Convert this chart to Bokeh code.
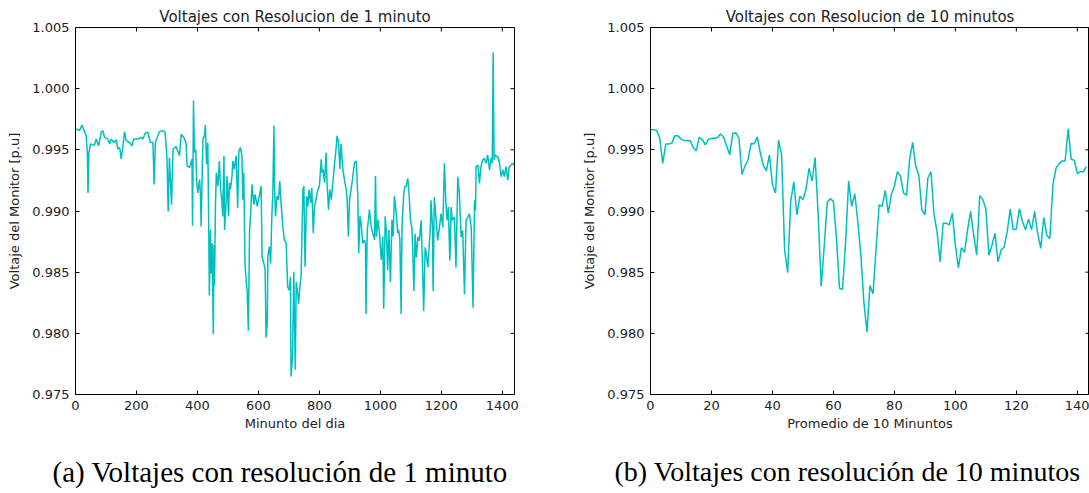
import math
from bokeh.plotting import figure
from bokeh.models import Range1d, FixedTicker, PrintfTickFormatter, Title
from bokeh.layouts import row
from bokeh.embed import file_html
from bokeh.resources import INLINE

# ---------------- data ----------------
minute_1 = [2, 13, 21, 28, 35, 39, 41, 44, 49, 62, 68, 76, 84, 90, 95, 106, 112, 117, 126, 134,
            139, 145, 150, 155, 161, 166, 177, 185, 191, 204, 215, 221, 229, 237, 246, 254, 258, 262, 275, 286,
            294, 300, 304, 308, 315, 320, 330, 341, 347, 358, 363, 366, 374, 382, 384, 387, 390, 394, 398, 401,
            407, 410, 412, 418, 423, 426, 430, 434, 437, 439, 443, 445, 448, 452, 454, 456, 459, 462, 467, 472,
            476, 480, 483, 487, 489, 494, 497, 502, 505, 508, 513, 516, 521, 527, 532, 536, 541, 546, 549, 552,
            556, 560, 563, 567, 571, 574, 579, 585, 589, 596, 603, 609, 612, 618, 622, 625, 629, 631, 636, 640,
            644, 647, 651, 653, 656, 661, 666, 670, 675, 680, 685, 691, 696, 701, 705, 707, 712, 716, 721, 724,
            729, 732, 736, 740, 746, 749, 753, 758, 762, 766, 771, 775, 780, 784, 789, 795, 800, 806, 809, 812,
            817, 822, 825, 830, 834, 839, 844, 849, 855, 858, 863, 867, 871, 877, 882, 888, 891, 895, 899, 904,
            910, 915, 921, 926, 929, 933, 937, 942, 948, 951, 953, 957, 961, 964, 970, 975, 981, 984, 987, 992,
            997, 1003, 1008, 1011, 1016, 1020, 1024, 1028, 1033, 1038, 1042, 1046, 1052, 1057, 1060, 1064, 1068, 1071, 1077, 1081,
            1084, 1090, 1094, 1099, 1103, 1106, 1110, 1114, 1118, 1123, 1128, 1134, 1139, 1142, 1147, 1151, 1156, 1160, 1164, 1166,
            1171, 1173, 1177, 1183, 1188, 1194, 1199, 1205, 1210, 1215, 1219, 1223, 1228, 1232, 1236, 1243, 1248, 1254, 1259, 1265,
            1270, 1276, 1281, 1287, 1292, 1298, 1304, 1309, 1312, 1314, 1320, 1325, 1330, 1336, 1341, 1347, 1352, 1358, 1363, 1367,
            1370, 1373, 1376, 1381, 1385, 1391, 1396, 1402, 1407, 1412, 1418, 1423, 1429, 1434, 1439]
volt_1 = [0.99670, 0.99657, 0.99703, 0.99657, 0.99615, 0.99464, 0.99148, 0.99478, 0.99547, 0.99538,
          0.99588, 0.99533, 0.99643, 0.99657, 0.99602, 0.99588, 0.99547, 0.99588, 0.99560, 0.99582,
          0.99505, 0.99519, 0.99423, 0.99519, 0.99648, 0.99574, 0.99560, 0.99533, 0.99588, 0.99588,
          0.99602, 0.99588, 0.99637, 0.99643, 0.99560, 0.99560, 0.99217, 0.99560, 0.99648, 0.99657,
          0.99643, 0.99437, 0.98997, 0.99437, 0.99052, 0.99505, 0.99527, 0.99451, 0.99629, 0.99588,
          0.99547, 0.99368, 0.99354, 0.99423, 0.98879, 0.99904, 0.99478, 0.99505, 0.99231, 0.99148,
          0.99258, 0.99121, 0.98874, 0.99588, 0.99615, 0.99703, 0.99382, 0.99560, 0.98874, 0.98310,
          0.98846, 0.98489, 0.98736, 0.97994, 0.98723, 0.98393, 0.99038, 0.99313, 0.99203, 0.99409,
          0.99176, 0.99093, 0.98956, 0.99451, 0.98846, 0.99066, 0.99286, 0.98956, 0.99231, 0.99176,
          0.99272, 0.99409, 0.99341, 0.99451, 0.99025, 0.99492, 0.99519, 0.99451, 0.99093, 0.99313,
          0.98571, 0.98420, 0.98352, 0.98022, 0.98846, 0.98956, 0.99217, 0.99052, 0.99135, 0.99038,
          0.99121, 0.99203, 0.98626, 0.98571, 0.98516, 0.97967, 0.98077, 0.98626, 0.98709, 0.98571,
          0.98956, 0.99121, 0.99698, 0.99203, 0.98956, 0.99121, 0.99093, 0.99245, 0.99038, 0.98874,
          0.98764, 0.98736, 0.98379, 0.98352, 0.98462, 0.97647, 0.97812, 0.98503, 0.97702, 0.98420,
          0.98324, 0.98242, 0.98379, 0.98462, 0.99176, 0.99203, 0.98544, 0.99121, 0.99038, 0.99176,
          0.99066, 0.99190, 0.98819, 0.99038, 0.99093, 0.99176, 0.99203, 0.99423, 0.99313, 0.99341,
          0.99231, 0.99478, 0.99231, 0.99011, 0.99176, 0.99093, 0.99231, 0.99368, 0.99519, 0.99615,
          0.99560, 0.99341, 0.99547, 0.99341, 0.99258, 0.99176, 0.99093, 0.98791, 0.99093, 0.99176,
          0.99286, 0.99396, 0.99409, 0.99121, 0.98654, 0.98956, 0.98901, 0.98736, 0.98764, 0.98736,
          0.98159, 0.98846, 0.98929, 0.99011, 0.98874, 0.98819, 0.98764, 0.99286, 0.98791, 0.98929,
          0.98819, 0.98599, 0.98791, 0.98201, 0.98956, 0.98819, 0.98516, 0.98846, 0.98420, 0.98929,
          0.98791, 0.99121, 0.98984, 0.98819, 0.98846, 0.98764, 0.98159, 0.98874, 0.99148, 0.99203,
          0.99198, 0.99266, 0.99143, 0.98923, 0.98868, 0.98703, 0.98346, 0.98813, 0.98621, 0.98786,
          0.98758, 0.98923, 0.98484, 0.98181, 0.98703, 0.98648, 0.98538, 0.98703, 0.98868, 0.99088,
          0.98868, 0.98346, 0.99115, 0.98923, 0.98758, 0.98868, 0.98978, 0.98868, 0.99390, 0.99060,
          0.98923, 0.99033, 0.98593, 0.99033, 0.98923, 0.98951, 0.98538, 0.99280, 0.99143, 0.98786,
          0.98841, 0.98319, 0.98923, 0.98951, 0.98978, 0.98868, 0.98209, 0.99088, 0.99005, 0.99363,
          0.99376, 0.99225, 0.99363, 0.99418, 0.99431, 0.99390, 0.99459, 0.99335, 0.99431, 0.99390,
          1.00297, 0.99418, 0.99459, 0.99445, 0.99445, 0.99390, 0.99280, 0.99335, 0.99280, 0.99363,
          0.99253, 0.99363, 0.99376, 0.99390, 0.99376]

volt_10 = [0.99665, 0.99665, 0.99660, 0.99600, 0.99390, 0.99547, 0.99547, 0.99555, 0.99616, 0.99616,
           0.99588, 0.99577, 0.99575, 0.99574, 0.99520, 0.99492, 0.99602, 0.99583, 0.99540, 0.99585,
           0.99594, 0.99594, 0.99600, 0.99629, 0.99602, 0.99530, 0.99459, 0.99635, 0.99638, 0.99596,
           0.99299, 0.99368, 0.99417, 0.99552, 0.99547, 0.99607, 0.99478, 0.99373, 0.99327, 0.99459,
           0.99217, 0.99148, 0.99580, 0.99459, 0.98680, 0.98496, 0.99079, 0.99239, 0.98969, 0.99120,
           0.99093, 0.99175, 0.99349, 0.99244, 0.99437, 0.98969, 0.98385, 0.98720, 0.99073, 0.99101,
           0.99079, 0.98776, 0.98369, 0.98358, 0.98749, 0.99244, 0.99038, 0.99142, 0.98914, 0.98639,
           0.98253, 0.98011, 0.98391, 0.98322, 0.98694, 0.99051, 0.99038, 0.99167, 0.98983, 0.99134,
           0.99203, 0.99321, 0.99285, 0.99148, 0.99128, 0.99423, 0.99561, 0.99368, 0.99294, 0.99010,
           0.98969, 0.99272, 0.99321, 0.98969, 0.98831, 0.98584, 0.98900, 0.98900, 0.98886, 0.98983,
           0.98721, 0.98534, 0.98700, 0.98661, 0.98846, 0.98997, 0.98804, 0.98639, 0.99126, 0.99093,
           0.99018, 0.98639, 0.98721, 0.98818, 0.98584, 0.98680, 0.98707, 0.98831, 0.99015, 0.98846,
           0.98853, 0.99018, 0.98914, 0.98846, 0.98936, 0.98846, 0.98997, 0.98818, 0.98694, 0.98947,
           0.98798, 0.98776, 0.99217, 0.99349, 0.99387, 0.99409, 0.99409, 0.99671, 0.99423, 0.99415,
           0.99305, 0.99321, 0.99321, 0.99362]
index_10 = list(range(len(volt_10)))

y_ticks = [0.975, 0.980, 0.985, 0.990, 0.995, 1.000, 1.005]
x_ticks_1 = [0, 200, 400, 600, 800, 1000, 1200, 1400]
x_ticks_10 = [0, 20, 40, 60, 80, 100, 120, 140]

titles = ["Voltajes con Resolucion de 1 minuto", "Voltajes con Resolucion de 10 minutos"]
x_labels = ["Minunto del dia", "Promedio de 10 Minuntos"]
y_label = "Voltaje del Monitor [p.u]"
captions = ["(a) Voltajes con resolución de 1 minuto", "(b) Voltajes con resolución de 10 minutos"]

LINE = "#00BFBF"
FONT = "DejaVu Sans"
Y0, Y1 = 0.975, 1.005


def make(xs, ys, xmax, xticks, title, xlabel, caption, left, right, cap_off, cap_size):
    p = figure(output_backend="svg", toolbar_location=None,
               frame_width=439, frame_height=367,
               min_border_left=left, min_border_right=right,
               min_border_top=27, min_border_bottom=99,
               x_range=Range1d(0, xmax), y_range=Range1d(Y0, Y1))
    p.background_fill_color = "white"
    p.border_fill_color = "white"
    p.outline_line_color = "black"
    p.outline_line_width = 1
    p.grid.visible = False

    p.title.text = title
    p.title.align = "center"
    p.title.text_font = FONT
    p.title.text_font_size = "15px"
    p.title.text_font_style = "normal"
    p.title.text_color = "#222222"
    p.title.standoff = 3

    p.line(xs, ys, line_color=LINE, line_width=1.5)

    # inward ticks on the top and right edges (clipped half of a dash marker)
    p.scatter(xticks, [Y1] * len(xticks), marker="dash", size=8, angle=math.pi / 2,
              line_color="black", line_width=1)
    p.scatter([xmax] * len(y_ticks), y_ticks, marker="dash", size=8,
              line_color="black", line_width=1)

    xa = p.xaxis[0]
    ya = p.yaxis[0]
    xa.ticker = FixedTicker(ticks=xticks)
    ya.ticker = FixedTicker(ticks=y_ticks)
    ya.formatter = PrintfTickFormatter(format="%.3f")
    for ax in (xa, ya):
        ax.axis_line_color = None
        ax.major_tick_in = 4
        ax.major_tick_out = 0
        ax.major_tick_line_color = "black"
        ax.minor_tick_line_color = None
        ax.major_label_text_font = FONT
        ax.major_label_text_font_size = "13px"
        ax.major_label_text_color = "#222222"
        ax.axis_label_text_font = FONT
        ax.axis_label_text_font_size = "13px"
        ax.axis_label_text_font_style = "normal"
        ax.axis_label_text_color = "#222222"
    xa.axis_label = xlabel
    ya.axis_label = y_label
    xa.major_label_standoff = 6
    ya.major_label_standoff = 6
    xa.axis_label_standoff = 3
    ya.axis_label_standoff = 7

    spacer = Title(text=" ", text_font_size="14px", standoff=0)
    p.add_layout(spacer, "below")
    cap = Title(text=caption, align="left", offset=cap_off,
                text_font="Liberation Serif", text_font_size=cap_size,
                text_font_style="normal", text_color="black", standoff=4)
    p.add_layout(cap, "below")
    return p


p1 = make(minute_1, volt_1, 1440, x_ticks_1, titles[0], x_labels[0], captions[0], 75, 46, -23, "29px")
p2 = make(index_10, volt_10, 144, x_ticks_10, titles[1], x_labels[1], captions[1], 90, 0, -36, "28px")

layout = row(p1, p2)
open("out.html", "w").write(file_html(layout, INLINE))
